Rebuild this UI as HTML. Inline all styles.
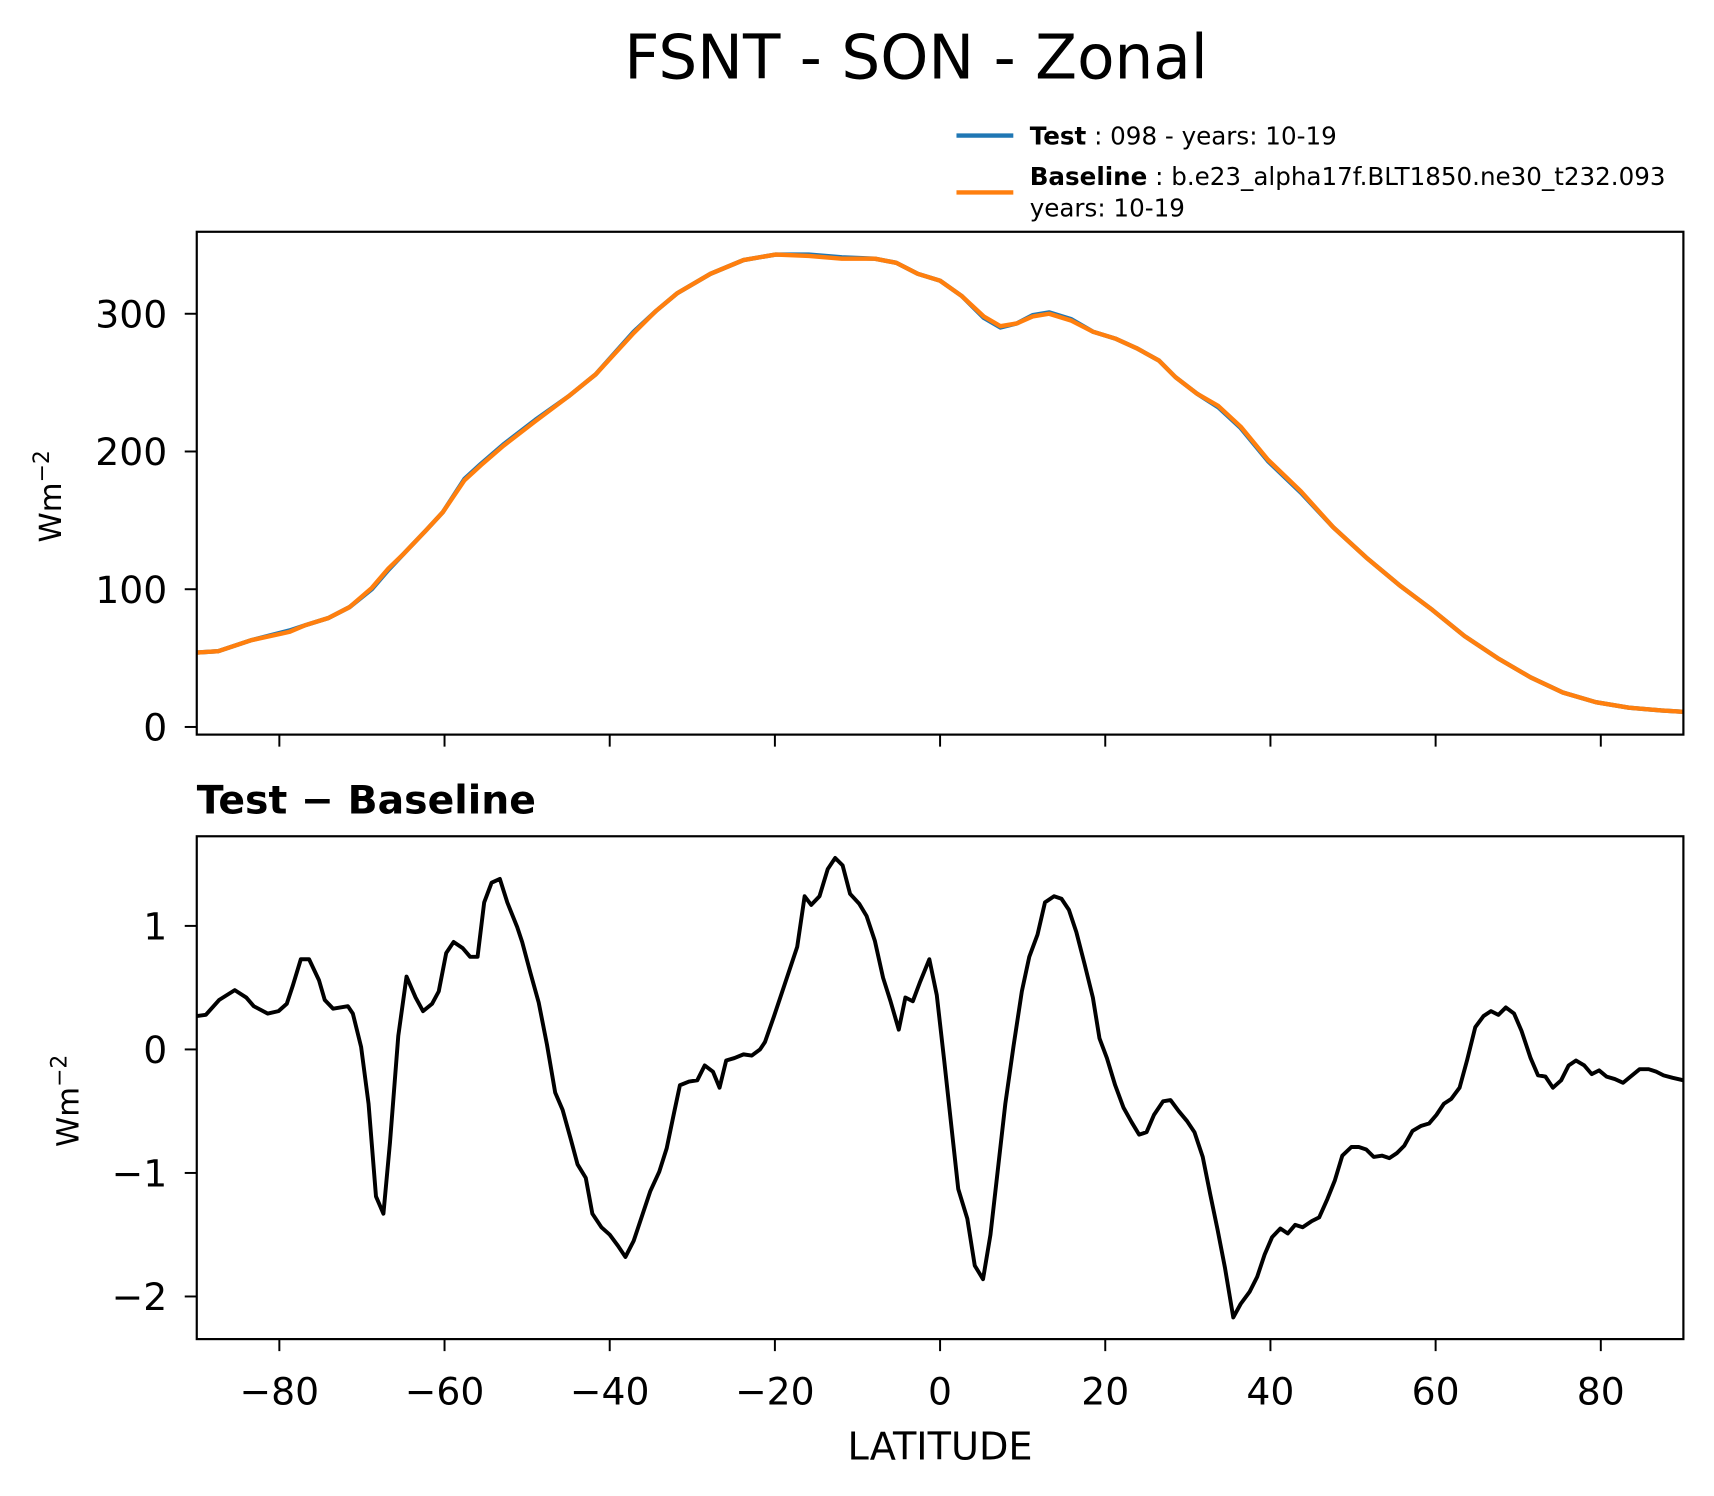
<!DOCTYPE html>
<html><head><meta charset="utf-8"><style>
html,body{margin:0;padding:0;background:#fff;}
svg{display:block;font-family:"DejaVu Sans","Liberation Sans",sans-serif;}
</style></head><body>
<svg id="chart" width="1714" height="1496" viewBox="0 0 1568 1368.5" xmlns="http://www.w3.org/2000/svg">
<rect width="1568" height="1368.5" fill="#fff"/>
<text x="838" y="72" font-size="56" text-anchor="middle">FSNT - SON - Zonal</text>
<g font-size="22.5">
  <line x1="875" y1="124" x2="927" y2="124" stroke="#1f77b4" stroke-width="4"/>
  <text x="942" y="132"><tspan font-weight="bold">Test</tspan> : 098 - years: 10-19</text>
  <line x1="875" y1="176" x2="927" y2="176" stroke="#ff7f0e" stroke-width="4"/>
  <text x="942" y="169"><tspan font-weight="bold">Baseline</tspan> : b.e23_alpha17f.BLT1850.ne30_t232.093</text>
  <text x="942" y="198">years: 10-19</text>
</g>
<g id="top"></g>
<g id="bot"></g>
<text x="180" y="744" font-size="36" font-weight="bold">Test − Baseline</text>
<text x="860" y="1335" font-size="35" text-anchor="middle">LATITUDE</text>
</svg>
<script>
const latsTop=[-90,-87.4,-83.4,-78.8,-76.8,-74.1,-71.5,-68.8,-66.8,-64.9,-62.2,-60.2,-57.6,-55.6,-52.9,-49.0,-45.0,-41.7,-37.1,-34.4,-31.8,-27.8,-23.8,-19.9,-15.9,-11.9,-7.9,-5.3,-2.7,0,2.6,5.3,7.3,9.3,11.2,13.2,15.9,18.5,21.2,23.8,26.5,28.5,31.1,33.7,36.4,39.7,43.7,47.6,51.6,55.6,59.6,63.5,67.5,71.5,75.4,79.4,83.4,87.3,90];
const baseline=[54,55,63,69,74,79,87,101,115,126,143,156,179,190,204,222,240,256,286,302,315,329,339,343,342,340,340,337,329,324,313,298,291,293,298,300,295,287,282,275,266,254,242,233,218,194,171,145,123,103,85,66,50,36,25,18,14,12,11];
const test=[54,55,63,70,74,79,87,100,114,126,143,156,180,191,205,223,240,256,287,302,315,329,339,343,343,341,340,337,329,324,313,297,290,293,299,301,296,287,282,275,266,254,242,232,217,193,170,145,123,103,85,66,50,36,25,18,14,12,11];
const latsDiff=[-90,-88.9,-87.3,-85.4,-84.0,-83.1,-81.4,-80.1,-79.1,-78.4,-77.4,-76.4,-75.2,-74.5,-73.5,-71.7,-71.1,-70.1,-69.2,-68.3,-67.4,-66.6,-65.6,-64.6,-63.5,-62.6,-61.5,-60.7,-59.8,-58.9,-57.8,-56.9,-56.0,-55.2,-54.3,-53.3,-52.4,-51.2,-50.6,-49.6,-48.6,-47.6,-46.6,-45.7,-44.7,-43.9,-42.9,-42.1,-41.0,-40.0,-39.0,-38.1,-37.1,-36.0,-35.1,-34.0,-33.1,-32.2,-31.5,-30.4,-29.4,-28.5,-27.5,-26.7,-25.9,-24.9,-23.8,-22.8,-21.8,-21.2,-20.1,-19.1,-18.3,-17.3,-16.4,-15.6,-14.6,-13.6,-12.7,-11.8,-10.9,-9.8,-8.9,-7.9,-6.9,-6.0,-5.0,-4.2,-3.3,-2.4,-1.3,-0.4,0.5,1.3,2.2,3.3,4.2,5.2,6.1,7.0,7.9,8.9,9.9,10.8,11.8,12.7,13.8,14.7,15.6,16.5,17.5,18.5,19.3,20.2,21.2,22.2,23.2,24.1,25.0,25.9,27.0,27.9,28.9,29.9,30.8,31.8,32.7,33.6,34.5,35.5,36.4,37.5,38.4,39.3,40.2,41.2,42.1,43.0,43.9,45.0,45.9,46.9,47.8,48.7,49.8,50.7,51.6,52.5,53.5,54.4,55.3,56.2,57.2,58.2,59.2,60.1,61.0,61.9,62.9,63.8,64.8,65.8,66.7,67.6,68.5,69.5,70.4,71.5,72.4,73.3,74.2,75.2,76.1,77.0,78.0,78.9,79.8,80.7,81.7,82.7,83.6,84.7,85.8,86.7,87.6,88.7,90];
const diff=[0.27,0.28,0.4,0.48,0.42,0.35,0.29,0.31,0.37,0.51,0.73,0.73,0.56,0.4,0.33,0.35,0.29,0.02,-0.44,-1.19,-1.33,-0.75,0.11,0.59,0.42,0.31,0.37,0.47,0.78,0.87,0.82,0.75,0.75,1.19,1.35,1.38,1.19,0.99,0.87,0.62,0.38,0.04,-0.35,-0.49,-0.73,-0.93,-1.04,-1.33,-1.44,-1.5,-1.59,-1.68,-1.55,-1.33,-1.15,-0.99,-0.8,-0.51,-0.29,-0.26,-0.25,-0.13,-0.18,-0.31,-0.09,-0.07,-0.04,-0.05,0,0.06,0.27,0.47,0.63,0.83,1.24,1.17,1.24,1.46,1.55,1.49,1.26,1.18,1.08,0.88,0.58,0.39,0.16,0.42,0.39,0.55,0.73,0.44,-0.09,-0.58,-1.13,-1.37,-1.75,-1.86,-1.5,-0.97,-0.44,0.03,0.47,0.75,0.93,1.19,1.24,1.22,1.13,0.95,0.69,0.42,0.09,-0.07,-0.29,-0.47,-0.59,-0.69,-0.67,-0.53,-0.42,-0.41,-0.5,-0.58,-0.67,-0.87,-1.17,-1.46,-1.77,-2.17,-2.06,-1.96,-1.84,-1.66,-1.52,-1.45,-1.49,-1.42,-1.44,-1.39,-1.36,-1.21,-1.06,-0.86,-0.79,-0.79,-0.81,-0.87,-0.86,-0.88,-0.84,-0.78,-0.66,-0.62,-0.6,-0.53,-0.44,-0.4,-0.31,-0.09,0.18,0.27,0.31,0.28,0.34,0.29,0.15,-0.07,-0.21,-0.22,-0.31,-0.25,-0.13,-0.09,-0.13,-0.2,-0.17,-0.22,-0.24,-0.27,-0.22,-0.16,-0.16,-0.18,-0.21,-0.23,-0.25];
const xTicks=[-80,-60,-40,-20,0,20,40,60,80];
const xTickLabels=["−80","−60","−40","−20","0","20","40","60","80"];
const yTicksTop=[0,100,200,300];
const yTicksBot=[-2,-1,0,1];
const yTickLabelsBot=["−2","−1","0","1"];

const NS="http://www.w3.org/2000/svg";
const X0=180,X1=1540;
const xs=v=>X0+(v+90)/180*(X1-X0);
const yTop=v=>665-v*1.26;
const yBot=v=>960-v*113;
function mk(parent,tag,attrs){const e=document.createElementNS(NS,tag);for(const k in attrs)e.setAttribute(k,attrs[k]);parent.appendChild(e);return e;}
function path(lats,vals,yf){return lats.map((l,i)=>(i?'L':'M')+xs(l).toFixed(2)+','+yf(vals[i]).toFixed(2)).join(' ');}

function panel(g,top,bottom,yf,ticks,labels,showX,name){
  const cp=mk(g,'clipPath',{id:'clip'+name});
  mk(cp,'rect',{x:X0,y:top,width:X1-X0,height:bottom-top});
  ticks.forEach((t,i)=>{
    const y=yf(t);
    const tk=mk(g,'line',{x1:X0-11,x2:X0,y1:y,y2:y,stroke:'#000','stroke-width':1.8});
    
    
    const tx=mk(g,'text',{x:X0-27,y:y+12.5,'font-size':34.5,'text-anchor':'end'});
    
    
    tx.textContent=labels[i];
  });
  xTicks.forEach((t,i)=>{
    const x=xs(t);
    const tk=mk(g,'line',{x1:x,x2:x,y1:bottom,y2:bottom+11,stroke:'#000','stroke-width':1.8});
    
    
    if(showX){
      const tx=mk(g,'text',{x:x,y:bottom+60,'font-size':34.5,'text-anchor':'middle'});
      
      
      tx.textContent=xTickLabels[i];
    }
  });
  const yl=mk(g,'text',{transform:`translate(${name==='top'?56:72},${(top+bottom)/2+12}) rotate(-90)`,'font-size':28,'text-anchor':'middle'});
  
  
  yl.innerHTML='Wm<tspan dy="-11" font-size="20">−2</tspan>';
}
function frame(g,top,bottom,name){
  const r=mk(g,'rect',{x:X0,y:top,width:X1-X0,height:bottom-top,fill:'none',stroke:'#000','stroke-width':2});
  
  
}
const gt=document.getElementById('top');
panel(gt,212,672,yTop,yTicksTop,yTicksTop.map(String),false,'top');
const lt=mk(gt,'path',{d:path(latsTop,test,yTop),fill:'none',stroke:'#1f77b4','stroke-width':4,'clip-path':'url(#cliptop)','stroke-linejoin':'round'});


const lb=mk(gt,'path',{d:path(latsTop,baseline,yTop),fill:'none',stroke:'#ff7f0e','stroke-width':4,'clip-path':'url(#cliptop)','stroke-linejoin':'round'});


frame(gt,212,672,'top');

const gb=document.getElementById('bot');
panel(gb,765,1225,yBot,yTicksBot,yTickLabelsBot,true,'bot');
const ld=mk(gb,'path',{d:path(latsDiff,diff,yBot),fill:'none',stroke:'#000','stroke-width':3.6,'clip-path':'url(#clipbot)','stroke-linejoin':'round'});


frame(gb,765,1225,'bot');
</script>
</body></html>
